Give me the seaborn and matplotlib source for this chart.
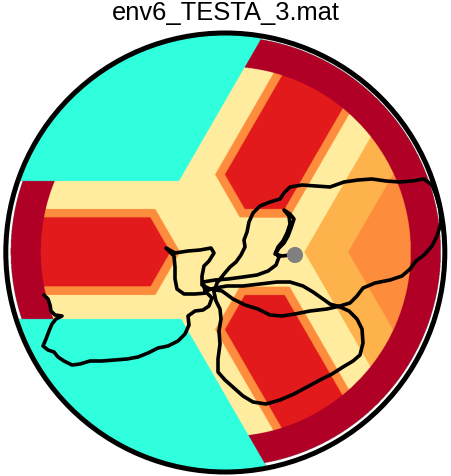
import numpy as np
import matplotlib
matplotlib.use("Agg")
import matplotlib.pyplot as plt
from matplotlib.colors import to_rgba
from matplotlib.patches import Circle
import seaborn as sns

# arena layout, in image pixels (y grows downwards)
arena_centre = (225.3, 253.5)
arena_radius = 219.5
rim_centre = (225.8, 252.5)
rim_inner, rim_outer = 185, 215
maze_centre = (220.0, 253.0)
arm_angles = [180, 60, -60]
core_half, border_half = 34.5, 43
arm_half_upper, arm_half_lower, arm_half_right = 71, 67, 73
far_right = 111

zone_colors = {
    "cyan": "#30FFDF",
    "cream": "#FFEDA0",
    "border": "#FD8D3C",
    "core": "#E31A1C",
    "near": "#FEB24C",
    "far": "#FD8D3C",
    "rim": "#B10026",
}

# tracked path (image pixels)
traj_x = [44, 48, 50, 51, 55, 62, 56, 52, 49, 46, 43, 48, 54, 58, 64, 72, 80, 90, 102, 115,
          127, 138, 148, 158, 168, 178, 185, 189, 188, 195, 203, 209,
          212, 207, 195, 184, 177, 175, 175, 174, 166, 175, 188, 200, 211, 214, 209, 204, 202, 202,
          210, 222, 233, 245, 258, 270, 282, 295, 310, 327, 340, 350, 357, 363, 375, 390, 402, 410,
          416, 424, 432, 437, 441, 440, 436, 432, 424, 412, 400, 386, 372, 358, 344, 330, 316, 302,
          290, 284, 280, 270, 260, 253, 249, 247, 244, 245, 241, 236, 230,
          224, 217, 214, 216, 220, 221, 219, 220, 218, 218, 225, 234, 243, 253, 266, 280, 294, 307,
          320, 332, 343, 353, 360, 363, 362, 357, 349, 340,
          330, 323, 313, 303, 290, 277, 260, 243, 227, 215, 205,
          203, 215, 228, 243, 257, 268, 276, 279, 276, 279, 284, 288, 291, 294, 290, 284, 289, 290,
          287, 283, 278, 275, 282, 290]
traj_y = [296, 300, 306, 312, 316, 317, 320, 325, 332, 340, 347, 351, 353, 358, 362, 366, 365, 362, 362, 361,
          360, 358, 354, 349, 347, 342, 335, 326, 317, 312, 311, 307,
          299, 294, 295, 295, 290, 280, 268, 257, 249, 254, 252, 251, 249, 254, 262, 267, 277, 286,
          290, 292, 300, 306, 310, 316, 317, 315, 312, 310, 307, 304, 297, 289, 284, 281, 277, 270,
          262, 256, 247, 237, 224, 210, 196, 186, 180, 182, 183, 182, 180, 181, 183, 188, 187, 186,
          188, 194, 200, 203, 207, 214, 223, 233, 241, 248, 256, 263, 268,
          275, 284, 293, 302, 310, 320, 332, 345, 360, 373, 381, 389, 397, 403, 405, 401, 395, 388,
          381, 375, 368, 362, 356, 344, 330, 320, 312, 308,
          305, 300, 293, 287, 283, 283, 285, 287, 287, 289, 292,
          283, 281, 280, 278, 276, 272, 266, 258, 254, 249, 244, 237, 229, 220, 215, 211, 217, 225,
          234, 242, 248, 255, 257, 256]
goal_x, goal_y = [295], [256]

W, H = 451, 477

# ---- zone map, supersampled so edges come out smooth
ss = 3
xs = (np.arange(W * ss) + 0.5) / ss
ys = (np.arange(H * ss) + 0.5) / ss
X, Y = np.meshgrid(xs, ys)
dx, dy = X - maze_centre[0], maze_centre[1] - Y
ang = np.degrees(np.arctan2(dy, dx))

along, perp = {}, {}
for a in arm_angles:
    r = np.radians(a)
    along[a] = dx * np.cos(r) + dy * np.sin(r)
    perp[a] = np.abs(-dx * np.sin(r) + dy * np.cos(r))

upper = (ang >= 60) & (ang <= 180)
lower = (ang <= -60)
right = ~upper & ~lower
in_maze = (upper & ((perp[180] < arm_half_upper) | (perp[60] < arm_half_upper))) | \
          (lower & ((perp[180] < arm_half_lower) | (perp[-60] < arm_half_lower))) | \
          (right & ((perp[60] < arm_half_right) | (perp[-60] < arm_half_right)))

zone = np.full(X.shape, "cream", dtype=object)
zone[~in_maze & ~right] = "cyan"
zone[~in_maze & right] = "near"
zone[~in_maze & right & (np.minimum(perp[60], perp[-60]) > far_right)] = "far"
for a in arm_angles:
    others = np.minimum(*[perp[b] for b in arm_angles if b != a])
    band = in_maze & (along[a] > 0) & (perp[a] < border_half) & (others > core_half)
    zone[band] = "border"
    zone[band & (perp[a] < core_half) & (others > border_half)] = "core"

r_rim = np.hypot(X - rim_centre[0], Y - rim_centre[1])
r_arena = np.hypot(X - arena_centre[0], Y - arena_centre[1])
is_cyan = zone == "cyan"
zone[~is_cyan & (r_rim > rim_inner)] = "rim"

img = np.zeros(X.shape + (4,))
for name, col in zone_colors.items():
    img[zone == name] = to_rgba(col)
img[~is_cyan & (r_rim > rim_outer)] = 0
img[is_cyan & (r_arena > arena_radius)] = 0

# ---- figure
sns.set_style("white")
fig = plt.figure(figsize=(W / 100, H / 100), dpi=100)
ax = fig.add_axes([0, 0, 1, 1])
ax.imshow(img, extent=[0, W, H, 0], origin="upper", interpolation="antialiased", zorder=1)

sns.lineplot(x=traj_x, y=traj_y, sort=False, estimator=None, color="black",
             lw=2.6, ax=ax, zorder=3)
sns.scatterplot(x=goal_x, y=goal_y, s=135, color="#808080", edgecolor="none", ax=ax, zorder=4)

ax.add_patch(Circle(arena_centre, arena_radius, fill=False, ec="black", lw=3.6, zorder=5))

ax.set_xlim(0, W)
ax.set_ylim(H, 0)
ax.set_aspect("auto")
ax.axis("off")

fig.text(0.5, 1 - 20 / H, "env6_TESTA_3.mat", ha="center", va="baseline", color="black",
         fontsize=18.4, family=["Liberation Sans", "DejaVu Sans"])

fig.savefig("out.png", dpi=100)
